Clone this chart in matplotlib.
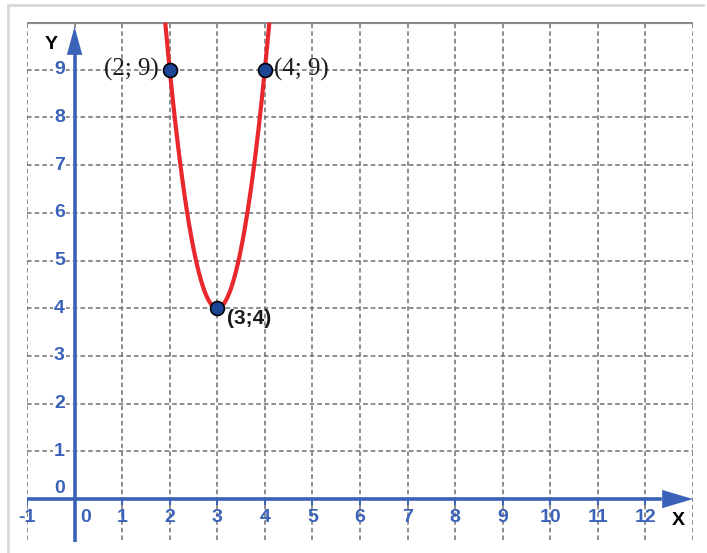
import numpy as np
import matplotlib
matplotlib.use("Agg")
import matplotlib.pyplot as plt
from matplotlib.lines import Line2D

# Labelled points of the parabola
point_x = [2, 3, 4]
point_y = [9, 4, 9]
point_labels = ["(2; 9)", "(3;4)", "(4; 9)"]

# Axis ticks
x_ticks = list(range(-1, 13))
y_ticks = list(range(0, 10))

AXIS_BLUE = "#3a62b8"
GRID_GRAY = "#6f6f6f"

fig = plt.figure(figsize=(7.07, 5.53), dpi=100)
ax = fig.add_axes([27 / 707, 1 - 542 / 553, 666 / 707, 520 / 553])
ax.set_xlim(-1, 13)
ax.set_ylim(-0.9, 10)
ax.axis("off")

# Outer light frame (top and left edges)
fig.add_artist(Line2D([8 / 707, 8 / 707], [0, 1 - 5 / 553], transform=fig.transFigure,
                      color="#d8d8d8", lw=2))
fig.add_artist(Line2D([8 / 707, 703 / 707], [1 - 5 / 553, 1 - 5 / 553], transform=fig.transFigure,
                      color="#d8d8d8", lw=2))

# Dashed grid
for gx in range(-1, 14):
    ax.plot([gx, gx], [-0.85, 10], ls=(0, (3, 2)), color=GRID_GRAY, lw=1.1, zorder=1)
for gy in range(1, 10):
    ax.plot([-1, 13], [gy, gy], ls=(0, (3, 2)), color=GRID_GRAY, lw=1.1, zorder=1)

# Thick top border of the grid
ax.plot([-1, 13], [10, 10], color="#8a8a8a", lw=3, zorder=2, solid_capstyle="butt")

# Axes with arrows
ax.plot([-1, 12.3], [0, 0], color=AXIS_BLUE, lw=2.6, zorder=3)
ax.plot([0, 0], [-0.9, 9.3], color=AXIS_BLUE, lw=2.6, zorder=3)
ax.annotate("", xy=(13.0, 0), xytext=(12.2, 0),
            arrowprops=dict(arrowstyle="-|>,head_length=2.2,head_width=0.65",
                            color=AXIS_BLUE, lw=0.1, shrinkA=0, shrinkB=0), zorder=4)
ax.annotate("", xy=(0, 9.9), xytext=(0, 9.2),
            arrowprops=dict(arrowstyle="-|>,head_length=2.0,head_width=0.55",
                            color=AXIS_BLUE, lw=0.1, shrinkA=0, shrinkB=0), zorder=4)

# Small ticks on the x axis
for t in x_ticks:
    ax.plot([t, t], [0, -0.1], color=AXIS_BLUE, lw=1.5, zorder=3)

tick_font = dict(family=["Liberation Sans", "DejaVu Sans"], fontsize=14,
                 fontweight="bold", color=AXIS_BLUE)
for t in x_ticks:
    xpos = t
    if t == 0:
        xpos = 0.23
    ax.text(xpos, -0.38, str(t), ha="center", va="center", zorder=5, **tick_font)
for t in y_ticks:
    ypos = t + 0.22 if t == 0 else t
    ax.text(-0.32, ypos, str(t), ha="center", va="center", zorder=5,
            bbox=dict(boxstyle="square,pad=0.05", fc="white", ec="none") if t else None,
            **tick_font)

ax.text(-0.5, 9.52, "Y", ha="center", va="center", fontsize=14, fontweight="bold",
        family=["Liberation Sans", "DejaVu Sans"], color="black")
ax.text(12.7, -0.45, "X", ha="center", va="center", fontsize=14, fontweight="bold",
        family=["Liberation Sans", "DejaVu Sans"], color="black")

# Parabola through the labelled points
coef = np.polyfit(point_x, point_y, 2)
xs = np.linspace(1.5, 4.5, 600)
ys = np.polyval(coef, xs)
mask = ys <= 10
ax.plot(xs[mask], ys[mask], color="#e8282c", lw=3, zorder=6, solid_capstyle="butt")

ax.scatter(point_x, point_y, s=100, color="#1d4596", edgecolor="black", linewidth=1.2, zorder=7)

serif = dict(family=["Liberation Serif", "DejaVu Serif"], fontsize=18, color="#1a1a1a")
ax.text(point_x[0] - 0.24, point_y[0], point_labels[0], ha="right", va="center", zorder=8, **serif)
ax.text(point_x[2] + 0.2, point_y[2], point_labels[2], ha="left", va="center", zorder=8, **serif)
ax.text(point_x[1] + 0.2, point_y[1] - 0.22, point_labels[1], ha="left", va="center", zorder=8,
        family=["Liberation Sans", "DejaVu Sans"], fontsize=15, fontweight="bold", color="#1a1a1a")

fig.savefig("out.png", dpi=100, facecolor="white")
